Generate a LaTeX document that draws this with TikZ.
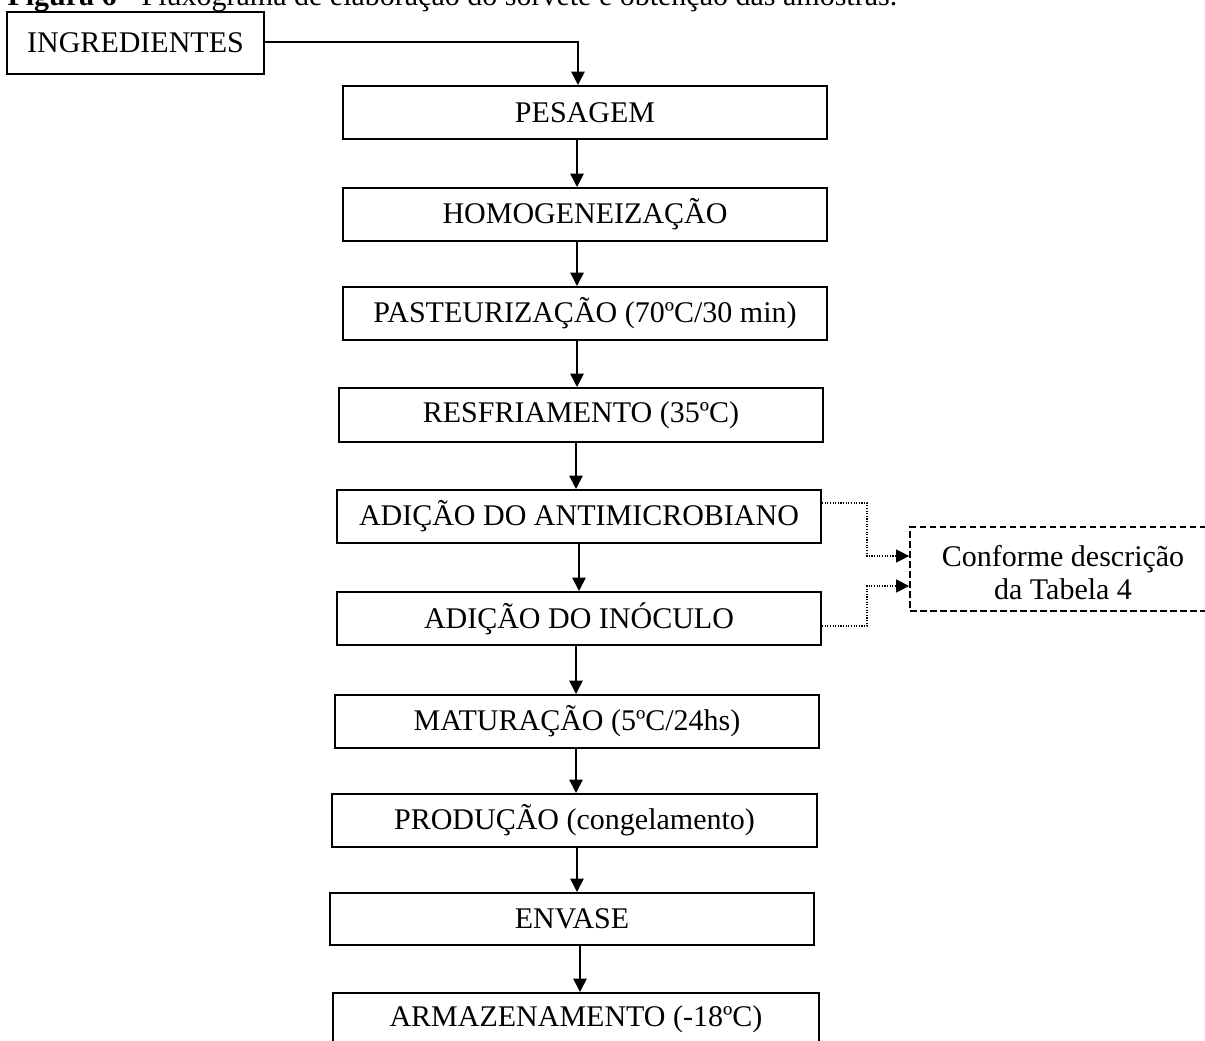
\documentclass[tikz,border=0pt]{standalone}
\usepackage{fontspec}
\setmainfont{Liberation Serif}
\usetikzlibrary{arrows.meta}
\tikzset{
  sz/.style 2 args={minimum width=#1*0.4pt, minimum height=#2*0.4pt},
  procbox/.style={draw, line width=0.8pt, inner sep=0pt, font=\fontsize{12pt}{14pt}\selectfont},
  notebox/.style={draw, dashed, dash pattern=on 2.6pt off 1.4pt, line width=0.7pt, inner sep=0pt, align=center, font=\fontsize{12pt}{13.2pt}\selectfont},
  mainarr/.style={line width=0.65pt, -{Triangle[length=5.4pt,width=5.4pt]}},
  dotarr/.style={line width=0.45pt, dash pattern=on 0.45pt off 0.6pt, -{Triangle[length=5.2pt,width=5.2pt]}},
}
\begin{document}
\begin{tikzpicture}[x=0.4pt, y=-0.4pt]
\useasboundingbox (0,0) rectangle (1205,1040);
\clip (0,0) rectangle (1205,1040);
\node[anchor=base west, inner sep=0pt, font=\fontsize{12pt}{14pt}\selectfont] (cap) at (7,5.5) {\textbf{Figura 6} - Fluxograma de elaboração do sorvete e obtenção das amostras.};
\node[procbox, sz={257}{62}] (ing) at (135.5,43) {INGREDIENTES};
\node[procbox, sz={484}{53}] (pes) at (585,112.5) {PESAGEM};
\node[procbox, sz={484}{53}] (hom) at (585,214.5) {HOMOGENEIZAÇÃO};
\node[procbox, sz={484}{53}] (pas) at (585,313.5) {PASTEURIZAÇÃO (70ºC/30 min)};
\node[procbox, sz={484}{54}] (res) at (581,415) {RESFRIAMENTO (35ºC)};
\node[procbox, sz={484}{53}] (ant) at (579,516.5) {ADIÇÃO DO ANTIMICROBIANO};
\node[procbox, sz={484}{53}] (ino) at (579,618.5) {ADIÇÃO DO INÓCULO};
\node[procbox, sz={484}{53}] (mat) at (577,721.5) {MATURAÇÃO (5ºC/24hs)};
\node[procbox, sz={485}{53}] (pro) at (574.5,820.5) {PRODUÇÃO (congelamento)};
\node[procbox, sz={484}{52}] (env) at (572,919) {ENVASE};
\node[procbox, sz={486}{53}] (arm) at (576,1019.5) {ARMAZENAMENTO (-18ºC)};
\node[notebox, sz={306}{84}] (conf) at (1063,569) {\rule{0pt}{11.6pt}Conforme descrição\\da Tabela 4};
% main flow
\draw[mainarr] (ing.east |- 0,42) -| (pes.north -| 578,0);
\draw[mainarr] (pes.south -| 577,0) -- (hom.north -| 577,0);
\draw[mainarr] (hom.south -| 577,0) -- (pas.north -| 577,0);
\draw[mainarr] (pas.south -| 577,0) -- (res.north -| 577,0);
\draw[mainarr] (res.south -| 576,0) -- (ant.north -| 576,0);
\draw[mainarr] (ant.south -| 579,0) -- (ino.north -| 579,0);
\draw[mainarr] (ino.south -| 576,0) -- (mat.north -| 576,0);
\draw[mainarr] (mat.south -| 576,0) -- (pro.north -| 576,0);
\draw[mainarr] (pro.south -| 577,0) -- (env.north -| 577,0);
\draw[mainarr] (env.south -| 580,0) -- (arm.north -| 580,0);
% dotted links
\draw[dotarr] (ant.east |- 0,503) -| (867,556) -- (conf.west |- 0,556);
\draw[dotarr] (ino.east |- 0,626) -| (867,586) -- (conf.west |- 0,586);
\end{tikzpicture}
\end{document}
